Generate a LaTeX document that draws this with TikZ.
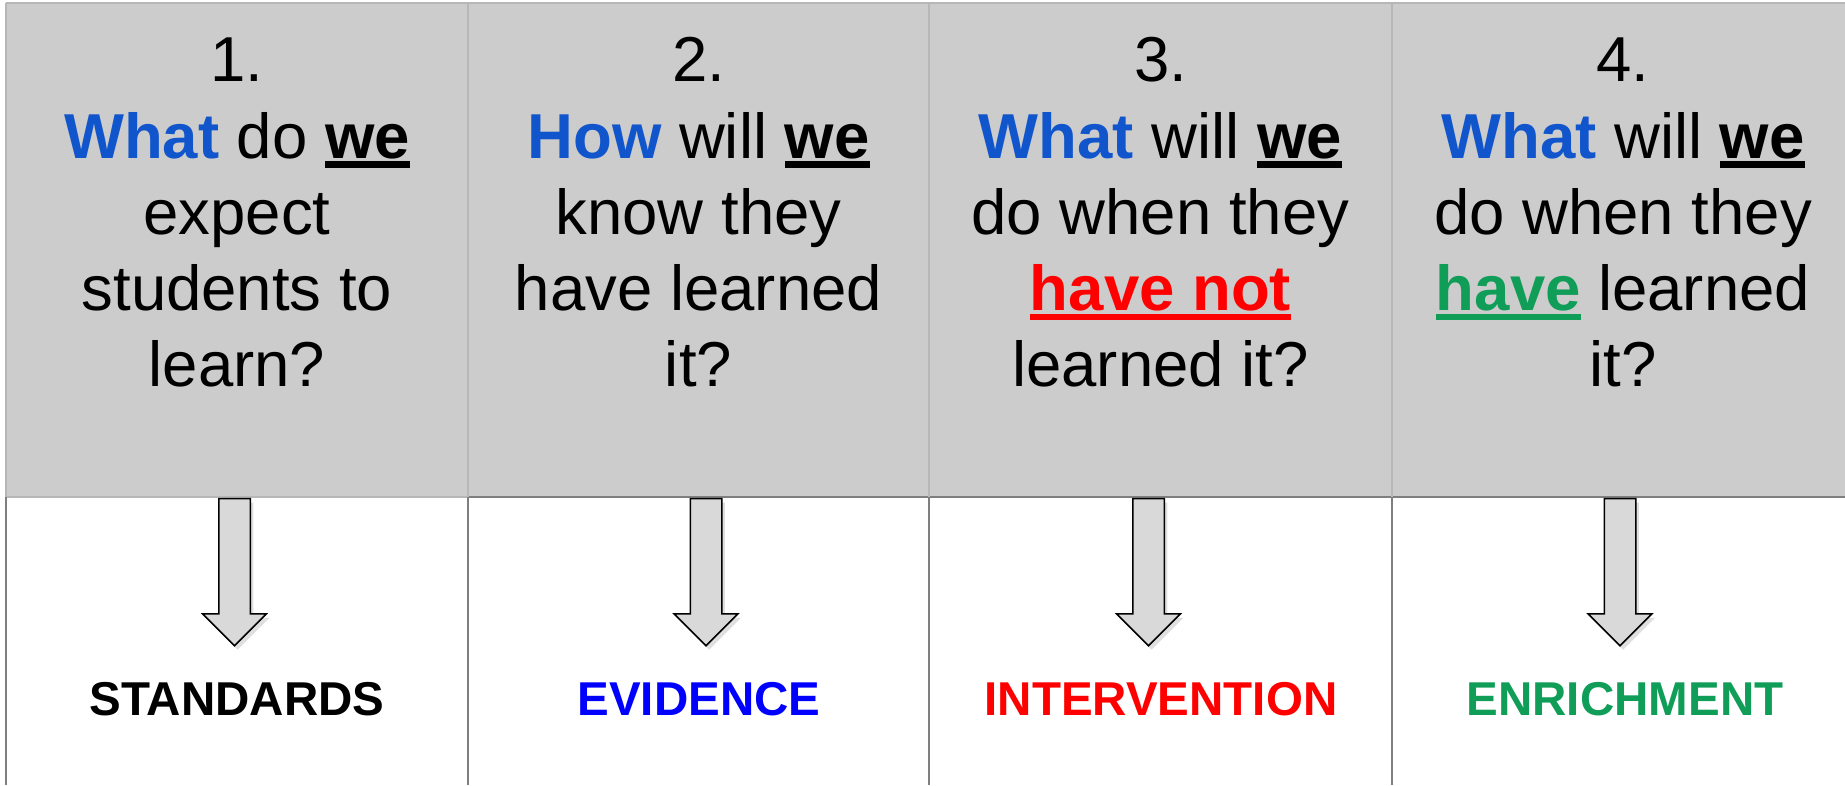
\documentclass[tikz,border=0pt]{standalone}
\usepackage{fontspec}
\setmainfont{Liberation Sans}
\usetikzlibrary{shapes.arrows,shadows}
\definecolor{askblue}{HTML}{1155CC}
\definecolor{evblue}{HTML}{0000FF}
\definecolor{notred}{HTML}{FF0000}
\definecolor{havegreen}{HTML}{0F9D58}
\definecolor{cellgray}{HTML}{CCCCCC}
\definecolor{lightrule}{HTML}{B7B7B7}
\definecolor{darkrule}{HTML}{7F7F7F}
\definecolor{arrowgray}{HTML}{D9D9D9}
\newsavebox\undlbox
\newcommand\undl[1]{\sbox\undlbox{#1}\rlap{\vrule height -0.052em depth 0.154em width \wd\undlbox}\usebox\undlbox}
\newcommand\ask[1]{\textbf{\color{askblue}#1}}
\begin{document}
\begin{tikzpicture}[x=1pt, y=1pt,
  question/.style={font=\fontsize{63.5}{76.2}\selectfont, align=center, anchor=base, inner sep=0pt},
  answer/.style={font=\fontsize{47.5}{57}\selectfont\bfseries, anchor=base, inner sep=0pt},
  downarrow/.style={single arrow, draw=black, line width=1.5pt, fill=arrowgray,
    inner sep=15pt, single arrow head extend=16pt, single arrow tip angle=90,
    minimum height=147pt, rotate=-90, anchor=tail,
    drop shadow={shadow xshift=3pt, shadow yshift=-4pt, opacity=0.25}}]
\useasboundingbox (0,0) rectangle (1845,785);
\fill[cellgray] (6,288) rectangle (1845,782);
\draw[lightrule, line width=1.5pt] (6,782) -- (1845,782);
\draw[lightrule, line width=1.5pt] (6,782) -- (6,288) -- (468,288);
\draw[darkrule, line width=1.5pt] (6,288) -- (6,0);
\draw[darkrule, line width=1.5pt] (468,288) -- (1845,288);
\foreach \x in {468,929,1392} {
  \draw[lightrule, line width=1.5pt] (\x,782) -- (\x,288);
  \draw[darkrule, line width=1.5pt] (\x,288) -- (\x,0);
}
\node[question] (q1) at (237,398.3) {1.\\\ask{What} do \undl{\textbf{we}}\\expect\\students to\\learn?};
\node[question] (q2) at (698.5,398.3) {2.\\\ask{How} will \undl{\textbf{we}}\\know they\\have learned\\it?};
\node[question] (q3) at (1160.5,398.3) {3.\\\ask{What} will \undl{\textbf{we}}\\do when they\\{\color{notred}\undl{\textbf{have not}}}\\learned it?};
\node[question] (q4) at (1623,398.3) {4.\\\ask{What} will \undl{\textbf{we}}\\do when they\\{\color{havegreen}\undl{\textbf{have}}} learned\\it?};
\node[downarrow] (a1) at (234.5,287) {};
\node[downarrow] (a2) at (706,287) {};
\node[downarrow] (a3) at (1148.5,287) {};
\node[downarrow] (a4) at (1620,287) {};
\node[answer] (l1) at (237,70) {STANDARDS};
\node[answer, text=evblue] (l2) at (699,70) {EVIDENCE};
\node[answer, text=notred] (l3) at (1161,70) {INTERVENTION};
\node[answer, text=havegreen] (l4) at (1625,70) {ENRICHMENT};
\end{tikzpicture}
\end{document}
